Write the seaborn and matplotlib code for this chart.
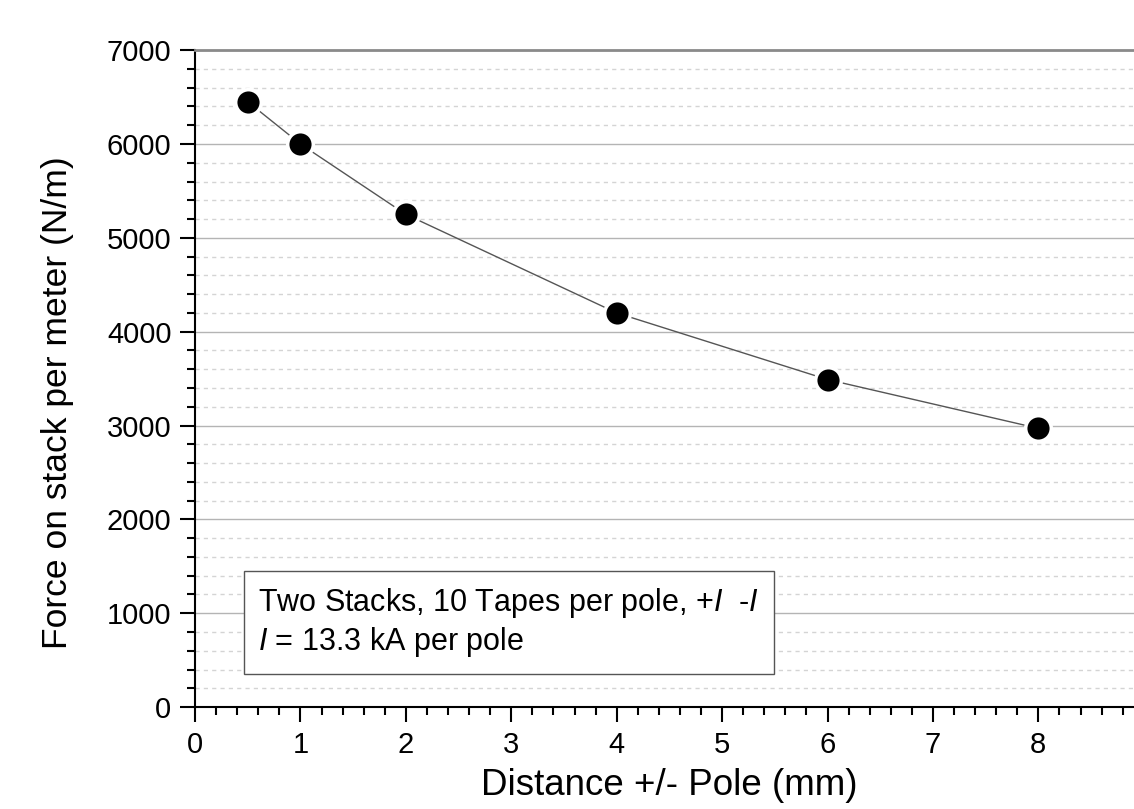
import matplotlib
matplotlib.use("Agg")
import matplotlib.pyplot as plt
import seaborn as sns
import pandas as pd
from matplotlib.ticker import MultipleLocator

distance = [0.5, 1, 2, 4, 6, 8]
force = [6450, 6000, 5250, 4200, 3490, 2970]
x_ticks = [0, 1, 2, 3, 4, 5, 6, 7, 8]
y_ticks = [0, 1000, 2000, 3000, 4000, 5000, 6000, 7000]

df = pd.DataFrame({"d": distance, "f": force})

sns.set_style("white")
plt.rcParams["font.family"] = ["Liberation Sans", "DejaVu Sans"]
plt.rcParams["mathtext.fontset"] = "custom"
plt.rcParams["mathtext.it"] = "Liberation Sans:italic"
plt.rcParams["mathtext.rm"] = "Liberation Sans"
plt.rcParams["text.color"] = "black"
plt.rcParams["axes.labelcolor"] = "black"
plt.rcParams["xtick.color"] = "black"
plt.rcParams["ytick.color"] = "black"

fig = plt.figure(figsize=(11.34, 8.09), dpi=100)
ax = fig.add_axes([0.172, 0.126, 0.8366, 0.812])

sns.lineplot(data=df, x="d", y="f", ax=ax, color="#555555", linewidth=1, zorder=3)
sns.scatterplot(data=df, x="d", y="f", ax=ax, color="black", s=340,
                edgecolor="white", linewidth=2.5, zorder=4)

ax.set_xlim(0, 9)
ax.set_ylim(0, 7000)
ax.set_xticks(x_ticks)
ax.set_yticks(y_ticks)
ax.xaxis.set_minor_locator(MultipleLocator(0.2))
ax.yaxis.set_minor_locator(MultipleLocator(200))

ax.grid(True, which="major", axis="y", color="#b4b4b4", linewidth=1, linestyle="-")
ax.grid(True, which="minor", axis="y", color="#d4d4d4", linewidth=1, linestyle=(0, (3, 3)))
ax.grid(False, axis="x", which="both")
ax.set_axisbelow(True)

ax.tick_params(axis="both", which="major", direction="out", length=11, width=1.5,
               labelsize=21, colors="black", pad=6, bottom=True, left=True)
ax.tick_params(axis="both", which="minor", direction="out", length=6, width=1.5,
               colors="black", bottom=True, left=True)

for side in ["left", "bottom"]:
    ax.spines[side].set_color("black")
    ax.spines[side].set_linewidth(1.5)
ax.spines["top"].set_color("#8a8a8a")
ax.spines["top"].set_linewidth(2)
ax.spines["right"].set_color("#8a8a8a")
ax.spines["right"].set_linewidth(2)

ax.set_xlabel("Distance +/- Pole (mm)", fontsize=26.5, labelpad=7)
ax.set_ylabel("Force on stack per meter (N/m)", fontsize=25.5)
ax.yaxis.set_label_coords(-0.128, 0.463)

ax.text(0.6, 900,
        "Two Stacks, 10 Tapes per pole, +$\\it{I}$  -$\\it{I}$\n$\\it{I}$ = 13.3 kA per pole",
        fontsize=22, va="center", ha="left", linespacing=1.2, zorder=5,
        bbox=dict(boxstyle="square,pad=0.48", facecolor="white", edgecolor="#555555", linewidth=1))

fig.savefig("out.png", dpi=100)
